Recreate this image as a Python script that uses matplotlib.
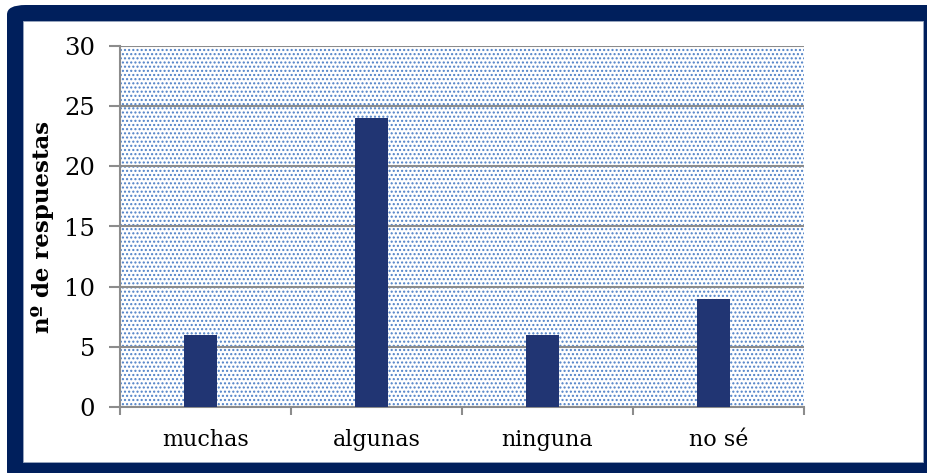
import matplotlib
matplotlib.use("Agg")
import matplotlib.pyplot as plt
from matplotlib.patches import FancyBboxPatch, Rectangle

categories = ["muchas", "algunas", "ninguna", "no sé"]
respuestas = [6, 24, 6, 9]
y_ticks = [0, 5, 10, 15, 20, 25, 30]

W, H = 928, 473
fig = plt.figure(figsize=(W / 100, H / 100), dpi=100)
plt.rcParams["font.family"] = ["DejaVu Serif"]

# navy frame
frame = FancyBboxPatch((7 / W, -8 / H), 940 / W, (H - 5 + 8) / H,
                       boxstyle="round,pad=0,rounding_size=0.02",
                       transform=fig.transFigure, facecolor="#001f5c",
                       edgecolor="none", zorder=0)
fig.patches.append(frame)
inner = Rectangle((23 / W, (H - 462) / H), (923 - 23) / W, (462 - 21) / H,
                  transform=fig.transFigure, facecolor="white",
                  edgecolor="#9aa7c0", lw=0.6, zorder=1)
fig.patches.append(inner)

ax = fig.add_axes([120 / W, (H - 407) / H, (804 - 120) / W, (407 - 46) / H])
ax.set_zorder(2)
ax.set_facecolor("none")

# dotted background
bg = Rectangle((0, 0), 1, 1, transform=ax.transAxes, facecolor="white",
               edgecolor="#4f81c7", hatch="....", lw=0, zorder=0)
ax.add_patch(bg)

x = [i - 0.03 for i in range(len(categories))]
ax.bar(x, respuestas, width=0.195, color="#213573", zorder=3)

ax.set_xlim(-0.5, len(categories) - 0.5)
ax.set_ylim(0, 30)
ax.set_yticks(y_ticks)
ax.yaxis.grid(True, color="#8c8c8c", lw=1.5, zorder=2)
ax.set_axisbelow(False)
for gl in ax.get_ygridlines():
    gl.set_zorder(2)

ax.set_xticks(range(len(categories)))
ax.set_xticklabels(categories, fontsize=16)
ax.set_xticks([i - 0.5 for i in range(len(categories) + 1)], minor=True)
ax.tick_params(axis="x", which="major", length=0, pad=16)
ax.tick_params(axis="x", which="minor", length=6, width=1.5, color="#8c8c8c")
ax.tick_params(axis="y", length=8, width=1.5, color="#8c8c8c",
               labelsize=17.5, pad=10)

for side in ["top", "right"]:
    ax.spines[side].set_visible(False)
for side in ["left", "bottom"]:
    ax.spines[side].set_color("#8c8c8c")
    ax.spines[side].set_linewidth(1.5)

ax.set_ylabel("nº de respuestas", fontsize=16.5, fontweight="bold")
ax.yaxis.set_label_coords(-0.097, 0.5)

fig.savefig("out.png", dpi=100)
